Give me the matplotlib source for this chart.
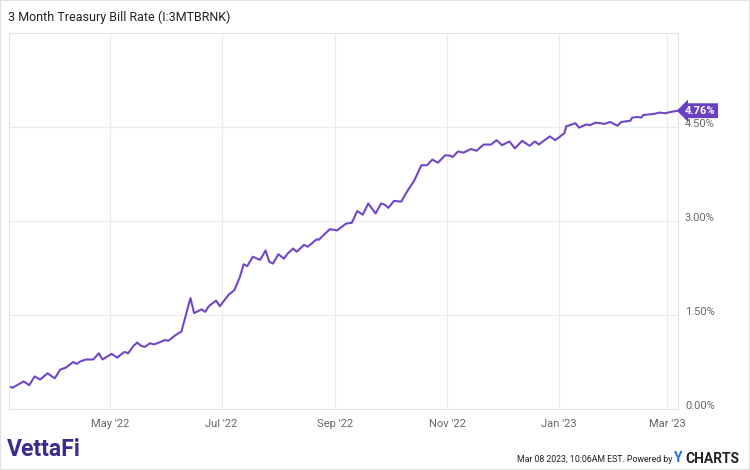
import matplotlib
matplotlib.use("Agg")
import matplotlib.pyplot as plt
import matplotlib.dates as mdates
import matplotlib.transforms as mtransforms
from matplotlib.patches import Rectangle
import pandas as pd

# 3 month T-bill rate
dates = [
    "2022-03-07", "2022-03-09", "2022-03-15", "2022-03-18", "2022-03-21", "2022-03-24",
    "2022-03-28", "2022-04-01", "2022-04-04", "2022-04-07", "2022-04-11", "2022-04-13",
    "2022-04-15", "2022-04-18", "2022-04-22", "2022-04-25", "2022-04-27", "2022-05-02",
    "2022-05-05", "2022-05-08", "2022-05-09", "2022-05-11", "2022-05-14", "2022-05-16",
    "2022-05-18", "2022-05-20", "2022-05-23", "2022-05-25", "2022-05-27", "2022-05-31",
    "2022-06-02", "2022-06-05", "2022-06-08", "2022-06-09", "2022-06-14", "2022-06-16",
    "2022-06-20", "2022-06-22", "2022-06-24", "2022-06-28", "2022-06-30", "2022-07-05",
    "2022-07-06", "2022-07-08", "2022-07-11", "2022-07-13", "2022-07-15", "2022-07-18",
    "2022-07-22", "2022-07-25", "2022-07-27", "2022-07-29", "2022-08-01", "2022-08-04",
    "2022-08-06", "2022-08-09", "2022-08-11", "2022-08-15", "2022-08-17", "2022-08-22",
    "2022-08-23", "2022-08-29", "2022-09-02", "2022-09-07", "2022-09-10", "2022-09-13",
    "2022-09-16", "2022-09-19", "2022-09-23", "2022-09-26", "2022-09-28", "2022-09-30",
    "2022-10-03", "2022-10-07", "2022-10-11", "2022-10-14", "2022-10-18", "2022-10-21",
    "2022-10-24", "2022-10-27", "2022-10-31", "2022-11-03", "2022-11-04", "2022-11-07",
    "2022-11-10", "2022-11-14", "2022-11-17", "2022-11-21", "2022-11-25", "2022-11-28",
    "2022-12-01", "2022-12-05", "2022-12-08", "2022-12-12", "2022-12-16", "2022-12-19",
    "2022-12-21", "2022-12-27", "2022-12-30", "2023-01-04", "2023-01-05", "2023-01-07",
    "2023-01-10", "2023-01-12", "2023-01-16", "2023-01-18", "2023-01-21", "2023-01-26",
    "2023-01-29", "2023-02-02", "2023-02-04", "2023-02-09", "2023-02-10", "2023-02-13",
    "2023-02-15", "2023-02-16", "2023-02-22", "2023-02-25", "2023-02-28", "2023-03-03",
    "2023-03-07",
]
rates = [
    0.36, 0.34, 0.44, 0.38, 0.52, 0.47,
    0.57, 0.49, 0.63, 0.66, 0.75, 0.72,
    0.76, 0.79, 0.79, 0.89, 0.79, 0.88,
    0.82, 0.89, 0.91, 0.89, 1.01, 1.06,
    1.01, 0.99, 1.05, 1.03, 1.05, 1.10,
    1.09, 1.16, 1.22, 1.23, 1.77, 1.53,
    1.59, 1.55, 1.64, 1.73, 1.64, 1.83,
    1.85, 1.90, 2.11, 2.31, 2.28, 2.43,
    2.38, 2.53, 2.35, 2.32, 2.47, 2.40,
    2.48, 2.56, 2.51, 2.62, 2.59, 2.71,
    2.70, 2.87, 2.85, 2.96, 2.97, 3.16,
    3.10, 3.28, 3.12, 3.28, 3.26, 3.21,
    3.32, 3.31, 3.51, 3.64, 3.89, 3.89,
    3.98, 3.93, 4.05, 4.04, 4.02, 4.11,
    4.09, 4.15, 4.12, 4.22, 4.22, 4.29,
    4.21, 4.27, 4.16, 4.28, 4.20, 4.27,
    4.22, 4.35, 4.29, 4.40, 4.51, 4.53,
    4.56, 4.49, 4.54, 4.53, 4.57, 4.55,
    4.58, 4.52, 4.58, 4.60, 4.65, 4.66,
    4.65, 4.69, 4.71, 4.73, 4.72, 4.74,
    4.76,
]
y_ticks = [0.0, 1.5, 3.0, 4.5]
month_ticks = ["2022-05-01", "2022-07-01", "2022-09-01", "2022-11-01", "2023-01-01", "2023-03-01"]

x = pd.to_datetime(dates)
line_color = "#7047c9"
grid_color = "#ececec"
label_color = "#666666"

plt.rcParams['font.family'] = ['Roboto', 'DejaVu Sans']
fig = plt.figure(figsize=(7.5, 4.7), dpi=100)
ax = fig.add_axes([9 / 750, 61 / 470, 669 / 750, 376 / 470])

ax.plot(x, rates, color=line_color, linewidth=1.5, solid_joinstyle="round")

ax.set_xlim(pd.Timestamp("2022-03-07"), pd.Timestamp("2023-03-07"))
ax.set_ylim(0, 6.0)

ax.set_xticks(pd.to_datetime(month_ticks))
ax.xaxis.set_major_formatter(mdates.DateFormatter("%b '%y"))
ax.set_yticks(y_ticks)
ax.set_yticklabels([f"{v:.2f}%" for v in y_ticks])
ax.yaxis.tick_right()

ax.grid(True, color=grid_color, linewidth=0.8)
ax.set_axisbelow(True)
ax.tick_params(axis="both", length=0, labelsize=8, labelcolor=label_color)
ax.tick_params(axis="x", pad=7)
ax.tick_params(axis="y", pad=5)
for lbl in ax.get_yticklabels():
    lbl.set_transform(lbl.get_transform() + mtransforms.ScaledTranslation(0, 3 / 72, fig.dpi_scale_trans))
for side in ["left", "right", "top", "bottom"]:
    ax.spines[side].set_color("#e2e2e2")
    ax.spines[side].set_linewidth(0.8)

# last value flag
ax.annotate(f"{rates[-1]:.2f}%", xy=(x[-1], rates[-1]), xytext=(5, 0),
            textcoords="offset points", ha="left", va="center",
            fontsize=8, fontweight="bold", color="white",
            bbox=dict(boxstyle="larrow,pad=0.22", fc="#6a3fc4", ec="none"),
            annotation_clip=False, zorder=5)

# title and footer
fig.text(8 / 750, 1 - 17 / 470, "3 Month Treasury Bill Rate (I:3MTBRNK)",
         fontsize=9, color="#222222", va="center", ha="left")
fig.text(7 / 750, 1 - 450 / 470, "VettaFi", fontsize=16.5, fontweight="bold",
         color="#3e2a8c", va="center", ha="left")
fig.text(672 / 750, 1 - 459 / 470, "Mar 08 2023, 10:06AM EST. Powered by",
         fontsize=6.3, color="#222222", va="center", ha="right")
fig.text(674 / 750, 1 - 458 / 470, "Y", fontsize=10, fontweight="bold",
         color="#1f6fd6", va="center", ha="left")
fig.text(685 / 750, 1 - 459 / 470, "CHARTS", fontsize=10, fontweight="bold",
         color="#222222", va="center", ha="left")

fig.patches.append(Rectangle((0, 0), 1, 1, transform=fig.transFigure,
                             fill=False, ec="#e0e0e0", lw=1.5))

fig.savefig("out.png", dpi=100)
